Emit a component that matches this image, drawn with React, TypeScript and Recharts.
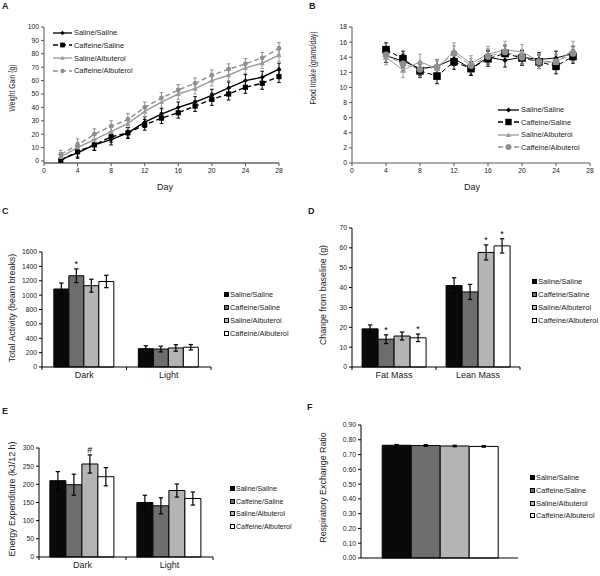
import React from 'react';
import { LineChart, Line, BarChart, Bar, XAxis, YAxis, ErrorBar, LabelList } from 'recharts';

const FONT = '"Liberation Sans", Arial, sans-serif';
const TXT = '#222';

const groups = ['Saline/Saline', 'Caffeine/Saline', 'Saline/Albuterol', 'Caffeine/Albuterol'];

// A - weight gain
const weightDays = [2, 4, 6, 8, 10, 12, 14, 16, 18, 20, 22, 24, 26, 28];
const weightSS = [1, 6, 12, 16, 21, 29, 35, 40, 44, 49, 54.5, 60, 62.5, 68.5];
const weightCS = [0.5, 7, 12, 18, 21, 27, 32, 36, 41, 46, 50, 55, 58, 63];
const weightSA = [3, 10, 16, 22, 28, 37, 44, 50, 54, 60, 64, 69.5, 73, 79];
const weightCA = [5, 12, 20, 26, 31, 40, 47, 53, 58, 64, 68.5, 72.5, 77, 84];
const weightSSErr = [2, 4, 4, 4, 4, 4, 4, 4, 4, 4.5, 4.5, 4.5, 4.5, 4.5];
const weightCSErr = [2, 4, 4, 4, 4, 4, 4, 4, 4, 4.5, 4.5, 4.5, 4.5, 4.5];
const weightSAErr = [3, 4, 4, 4, 4, 4, 4, 4, 4, 4, 4, 4, 4, 4.5];
const weightCAErr = [3, 4.5, 4, 4, 4.5, 4, 4, 4, 4, 4, 4, 4, 4, 4.5];
const weightTicks = [0, 10, 20, 30, 40, 50, 60, 70, 80, 90, 100];
const dayTicks = [0, 4, 8, 12, 16, 20, 24, 28];

// B - food intake
const foodDays = [4, 6, 8, 10, 12, 14, 16, 18, 20, 22, 24, 26];
const foodSS = [14.2, 13.5, 12.5, 12.8, 13.8, 12.5, 14.0, 13.6, 14.0, 13.7, 13.9, 14.5];
const foodCS = [15.0, 13.8, 12.2, 11.5, 13.4, 12.5, 13.8, 14.5, 13.9, 13.4, 12.8, 14.1];
const foodSA = [14.0, 12.3, 13.4, 12.5, 14.8, 13.2, 14.4, 15.0, 14.7, 13.5, 13.3, 15.0];
const foodCA = [14.3, 13.1, 12.4, 12.7, 14.5, 12.9, 14.1, 14.7, 14.0, 13.4, 13.4, 14.5];
const foodSSErr = [0.9, 0.9, 0.9, 0.9, 0.9, 0.9, 0.9, 0.9, 0.9, 0.9, 0.9, 0.9];
const foodCSErr = [0.9, 1.0, 0.9, 1.0, 1.0, 0.9, 1.0, 1.0, 1.0, 0.9, 1.0, 0.9];
const foodSAErr = [1.0, 1.0, 1.0, 1.0, 1.1, 1.0, 1.0, 1.1, 1.0, 1.0, 1.0, 1.1];
const foodCAErr = [0.9, 1.0, 1.0, 1.0, 1.0, 0.9, 1.0, 1.0, 1.0, 0.9, 1.0, 1.0];
const foodTicks = [0, 2, 4, 6, 8, 10, 12, 14, 16, 18];

// C - total activity
const phaseCats = ['Dark', 'Light'];
const actSS = [1085, 255];
const actCS = [1270, 250];
const actSA = [1131, 265];
const actCA = [1190, 275];
const actSSErr = [83, 40];
const actCSErr = [95, 40];
const actSAErr = [90, 45];
const actCAErr = [86, 38];
const actSig = [['', ''], ['*', ''], ['', ''], ['', '']];
const actTicks = [0, 200, 400, 600, 800, 1000, 1200, 1400, 1600];

// D - body composition
const massCats = ['Fat Mass', 'Lean Mass'];
const massSS = [19.2, 41];
const massCS = [14, 37.8];
const massSA = [15.6, 57.7];
const massCA = [14.7, 61];
const massSSErr = [2, 3.9];
const massCSErr = [2.2, 3.8];
const massSAErr = [2, 3.8];
const massCAErr = [1.9, 3.6];
const massSig = [['', ''], ['*', ''], ['', '*'], ['*', '*']];
const massTicks = [0, 10, 20, 30, 40, 50, 60, 70];

// E - energy expenditure
const eeSS = [210, 150];
const eeCS = [199, 141];
const eeSA = [256, 183];
const eeCA = [221, 161];
const eeSSErr = [25, 20];
const eeCSErr = [29, 22];
const eeSAErr = [25, 18];
const eeCAErr = [25, 18];
const eeSig = [['', ''], ['', ''], ['#', ''], ['', '']];
const eeTicks = [0, 50, 100, 150, 200, 250, 300];

// F - RER
const rerCats = [''];
const rerSS = [0.763];
const rerCS = [0.761];
const rerSA = [0.758];
const rerCA = [0.755];
const rerSSErr = [0.005];
const rerCSErr = [0.006];
const rerSAErr = [0.005];
const rerCAErr = [0.005];
const rerSig = [[''], [''], [''], ['']];
const rerTicks = [0, 0.1, 0.2, 0.3, 0.4, 0.5, 0.6, 0.7, 0.8, 0.9];

const lineStyles = [
  { color: '#000', dash: undefined, shape: 'diamond' },
  { color: '#000', dash: '5 3', shape: 'square' },
  { color: '#9a9a9a', dash: undefined, shape: 'triangle' },
  { color: '#8e8e8e', dash: '5 3', shape: 'circle' },
];
const barFills = ['#0a0a0a', '#6e6e6e', '#b4b4b4', '#ffffff'];

const Marker = ({ cx, cy, shape, color, size }: any) => {
  if (cx == null || cy == null) return null;
  if (shape === 'diamond')
    return <polygon points={`${cx},${cy - size} ${cx + size},${cy} ${cx},${cy + size} ${cx - size},${cy}`} fill={color} />;
  if (shape === 'square') return <rect x={cx - size} y={cy - size} width={size * 2} height={size * 2} fill={color} />;
  if (shape === 'triangle')
    return <polygon points={`${cx},${cy - size} ${cx + size},${cy + size * 0.8} ${cx - size},${cy + size * 0.8}`} fill={color} />;
  return <circle cx={cx} cy={cy} r={size} fill={color} />;
};

// squeeze < 1 compresses the text along its own direction (the scanned figure is squashed vertically)
const textLabel = (value: string, x: number, y: number, fontSize: number, rotate = false, squeeze = 1) => ({
  value,
  content: () => (
    <text
      x={x}
      y={y}
      transform={rotate ? `translate(${x} ${y}) rotate(-90) scale(${squeeze} 1) translate(${-x} ${-y})` : undefined}
      textAnchor="middle"
      dominantBaseline="central"
      fontSize={fontSize}
      fill={TXT}
    >
      {value}
    </text>
  ),
});

const PanelLetter = ({ text, left, top }: any) => (
  <div style={{ position: 'absolute', left, top, fontWeight: 'bold', fontSize: 9, lineHeight: '10px' }}>{text}</div>
);

function LinePanel(props: any) {
  const {
    left, top, width, height, margin, yAxisWidth, xAxisHeight, days, values, errs,
    yDomain, yTicks, yTitle, yTitlePos, markerSizes, strokeWidth, xAxisStroke, xAxisStrokeWidth, dayPos,
  } = props;
  const rows = days.map((d: number, i: number) => {
    const r: any = { day: d };
    values.forEach((v: number[], k: number) => {
      r[`s${k}`] = v[i];
      r[`e${k}`] = errs[k][i];
    });
    return r;
  });
  return (
    <div style={{ position: 'absolute', left, top }}>
      <LineChart width={width} height={height} data={rows} margin={margin}>
        <XAxis
          type="number"
          dataKey="day"
          domain={[0, 28]}
          ticks={dayTicks}
          tickSize={3}
          tickMargin={2}
          tick={{ fontSize: 6.8, fill: TXT }}
          axisLine={{ stroke: xAxisStroke, strokeWidth: xAxisStrokeWidth }}
          tickLine={{ stroke: '#555' }}
          height={xAxisHeight}
          label={textLabel('Day', dayPos[0], dayPos[1], 9)}
        />
        <YAxis
          domain={yDomain}
          ticks={yTicks}
          width={yAxisWidth}
          tickSize={3}
          tickMargin={2}
          tick={{ fontSize: 6.8, fill: TXT }}
          axisLine={{ stroke: '#555' }}
          tickLine={{ stroke: '#555' }}
          label={textLabel(yTitle, yTitlePos[0], yTitlePos[1], 8.6, true, 0.78)}
        />
        {values.map((_: number[], k: number) => {
          const st = lineStyles[k];
          return (
            <Line
              key={k}
              dataKey={`s${k}`}
              stroke={st.color}
              strokeWidth={strokeWidth}
              strokeDasharray={st.dash}
              isAnimationActive={false}
              dot={(p: any) => (
                <Marker key={`m${k}-${p.index}`} cx={p.cx} cy={p.cy} shape={st.shape} color={st.color} size={markerSizes[k]} />
              )}
              activeDot={false}
            >
              <ErrorBar dataKey={`e${k}`} width={1.8} stroke={st.color} strokeWidth={1} direction="y" />
            </Line>
          );
        })}
      </LineChart>
    </div>
  );
}

const LineLegend = ({ left, top, rowH, lineW, sizes }: any) => (
  <div style={{ position: 'absolute', left, top, fontSize: 7.4, color: TXT }}>
    {groups.map((g, k) => {
      const st = lineStyles[k];
      return (
        <div key={g} style={{ display: 'flex', alignItems: 'center', height: rowH }}>
          <svg width={lineW} height={8} style={{ marginRight: 2 }}>
            <line x1={0} y1={4} x2={lineW} y2={4} stroke={st.color} strokeWidth={1.3} strokeDasharray={st.dash} />
            <Marker cx={lineW / 2} cy={4} shape={st.shape} color={st.color} size={sizes[k]} />
          </svg>
          <span>{g}</span>
        </div>
      );
    })}
  </div>
);

const BarLegend = ({ left, top, rowH, fontSize }: any) => (
  <div style={{ position: 'absolute', left, top, fontSize, color: TXT }}>
    {groups.map((g, k) => (
      <div key={g} style={{ display: 'flex', alignItems: 'center', height: rowH }}>
        <span
          style={{
            display: 'inline-block', width: 5, height: 5, boxSizing: 'border-box',
            border: '1px solid #000', background: barFills[k], marginRight: 1,
          }}
        />
        <span>{g}</span>
      </div>
    ))}
  </div>
);

const catTick = (band: number, n: number, show: boolean) => (p: any) => {
  const { x, y, payload, index } = p;
  return (
    <g>
      {show && <line x1={x - band / 2} y1={y} x2={x - band / 2} y2={y + 3} stroke="#000" />}
      {show && index === n - 1 && <line x1={x + band / 2} y1={y} x2={x + band / 2} y2={y + 3} stroke="#000" />}
      <text x={x} y={y + 11} textAnchor="middle" fontSize={9} fill={TXT}>
        {payload.value}
      </text>
    </g>
  );
};

const sigContent = (sigs: string[], errs: number[], pxPerUnit: number) => (p: any) => {
  const vb = p.viewBox || p;
  const idx = p.index;
  const s = sigs[idx];
  if (!s) return null;
  const x = (vb.x ?? p.x) + (vb.width ?? p.width) / 2;
  const y = (vb.y ?? p.y) - errs[idx] * pxPerUnit - 2;
  return (
    <text key={`sig-${idx}`} x={x} y={y} textAnchor="middle" fontSize={9} fill="#000">
      {s}
    </text>
  );
};

function BarPanel(props: any) {
  const {
    left, top, width, height, margin, yAxisWidth, xAxisHeight, cats, values, errs, sigs,
    yMax, yTicks, yFmt, yTitle, yTitlePos, gap, showCats,
  } = props;
  const rows = cats.map((c: string, i: number) => {
    const r: any = { cat: c };
    values.forEach((v: number[], k: number) => {
      r[`s${k}`] = v[i];
      r[`e${k}`] = errs[k][i];
    });
    return r;
  });
  const plotW = width - margin.left - margin.right - yAxisWidth;
  const plotH = height - margin.top - margin.bottom - xAxisHeight;
  const band = plotW / cats.length;
  const pxPerUnit = plotH / yMax;
  return (
    <div style={{ position: 'absolute', left, top }}>
      <BarChart width={width} height={height} data={rows} margin={margin} barCategoryGap={gap} barGap={0}>
        <XAxis
          dataKey="cat"
          height={xAxisHeight}
          tickSize={0}
          tickMargin={0}
          tickLine={false}
          axisLine={{ stroke: '#000' }}
          tick={catTick(band, cats.length, showCats)}
        />
        <YAxis
          domain={[0, yMax]}
          ticks={yTicks}
          width={yAxisWidth}
          tickSize={3}
          tickMargin={2}
          tickFormatter={yFmt}
          tick={{ fontSize: 6.8, fill: TXT }}
          axisLine={{ stroke: '#000' }}
          tickLine={{ stroke: '#000' }}
          label={textLabel(yTitle, yTitlePos[0], yTitlePos[1], 8.9, true)}
        />
        {values.map((_: number[], k: number) => (
          <Bar key={k} dataKey={`s${k}`} fill={barFills[k]} stroke="#000" strokeWidth={1} isAnimationActive={false}>
            <ErrorBar dataKey={`e${k}`} width={2.2} stroke="#000" strokeWidth={1.2} />
            <LabelList dataKey={`s${k}`} content={sigContent(sigs[k], errs[k], pxPerUnit)} />
          </Bar>
        ))}
      </BarChart>
    </div>
  );
}

export default function App() {
  return (
    <div
      style={{
        position: 'absolute', left: 0, top: 0, width: 600, height: 576, background: '#fff',
        fontFamily: FONT, color: TXT, overflow: 'hidden',
      }}
    >
      <PanelLetter text="A" left={2} top={1} />
      <LinePanel
        left={0}
        top={0}
        width={290}
        height={200}
        margin={{ top: 27, right: 11, left: 0, bottom: 0 }}
        yAxisWidth={44}
        xAxisHeight={37}
        days={weightDays}
        values={[weightSS, weightCS, weightSA, weightCA]}
        errs={[weightSSErr, weightCSErr, weightSAErr, weightCAErr]}
        yDomain={[0, 100]}
        yTicks={weightTicks}
        yTitle="Weight Gain (g)"
        yTitlePos={[12, 88]}
        dayPos={[165, 187]}
        markerSizes={[2.4, 2.6, 2.5, 2.4]}
        strokeWidth={1.4}
        xAxisStroke="#8a8a8a"
        xAxisStrokeWidth={2}
      />
      <LineLegend left={53} top={26.4} rowH={12.7} lineW={19} sizes={[2.2, 2.4, 2.2, 2.2]} />

      <PanelLetter text="B" left={309} top={1} />
      <LinePanel
        left={300}
        top={0}
        width={300}
        height={200}
        margin={{ top: 27, right: 10, left: 0, bottom: 0 }}
        yAxisWidth={52}
        xAxisHeight={37}
        days={foodDays}
        values={[foodSS, foodCS, foodSA, foodCA]}
        errs={[foodSSErr, foodCSErr, foodSAErr, foodCAErr]}
        yDomain={[0, 18]}
        yTicks={foodTicks}
        yTitle="Food Intake (grams/day)"
        yTitlePos={[13, 68]}
        dayPos={[172, 187]}
        markerSizes={[2.6, 3.8, 3.2, 3.4]}
        strokeWidth={1}
        xAxisStroke="#555"
        xAxisStrokeWidth={1}
      />
      <LineLegend left={498} top={103.8} rowH={12.4} lineW={21} sizes={[2.4, 3.2, 2.6, 3]} />

      <PanelLetter text="C" left={2} top={206} />
      <BarPanel
        left={0}
        top={200}
        width={215}
        height={190}
        margin={{ top: 52, right: 4, left: 0, bottom: 0 }}
        yAxisWidth={42}
        xAxisHeight={23}
        cats={phaseCats}
        values={[actSS, actCS, actSA, actCA]}
        errs={[actSSErr, actCSErr, actSAErr, actCAErr]}
        sigs={actSig}
        yMax={1600}
        yTicks={actTicks}
        yTitle="Total Activity (beam breaks)"
        yTitlePos={[12, 108]}
        gap="14%"
        showCats
      />
      <BarLegend left={224} top={287.4} rowH={13.3} fontSize={7.4} />

      <PanelLetter text="D" left={308} top={206} />
      <BarPanel
        left={300}
        top={200}
        width={225}
        height={190}
        margin={{ top: 28, right: 5, left: 0, bottom: 0 }}
        yAxisWidth={52}
        xAxisHeight={23}
        cats={massCats}
        values={[massSS, massCS, massSA, massCA]}
        errs={[massSSErr, massCSErr, massSAErr, massCAErr]}
        sigs={massSig}
        yMax={70}
        yTicks={massTicks}
        yTitle="Change from baseline (g)"
        yTitlePos={[23, 95]}
        gap="12%"
        showCats
      />
      <BarLegend left={532} top={275.6} rowH={12.7} fontSize={7.6} />

      <PanelLetter text="E" left={2} top={406} />
      <BarPanel
        left={0}
        top={395}
        width={220}
        height={181}
        margin={{ top: 53, right: 7, left: 0, bottom: 0 }}
        yAxisWidth={39}
        xAxisHeight={19}
        cats={phaseCats}
        values={[eeSS, eeCS, eeSA, eeCA]}
        errs={[eeSSErr, eeCSErr, eeSAErr, eeCAErr]}
        sigs={eeSig}
        yMax={300}
        yTicks={eeTicks}
        yTitle="Energy Expenditure (kJ/12 h)"
        yTitlePos={[12, 104]}
        gap="12.5%"
        showCats
      />
      <BarLegend left={230} top={482} rowH={12.7} fontSize={7} />

      <PanelLetter text="F" left={307} top={402} />
      <BarPanel
        left={300}
        top={395}
        width={225}
        height={181}
        margin={{ top: 30, right: 7, left: 0, bottom: 0 }}
        yAxisWidth={61}
        xAxisHeight={18}
        cats={rerCats}
        values={[rerSS, rerCS, rerSA, rerCA]}
        errs={[rerSSErr, rerCSErr, rerSAErr, rerCAErr]}
        sigs={rerSig}
        yMax={0.9}
        yTicks={rerTicks}
        yFmt={(v: number) => v.toFixed(2)}
        yTitle="Respiratory Exchange Ratio"
        yTitlePos={[23, 92.5]}
        gap="13.5%"
        showCats={false}
      />
      <BarLegend left={530} top={471.7} rowH={12.6} fontSize={7.4} />
    </div>
  );
}
